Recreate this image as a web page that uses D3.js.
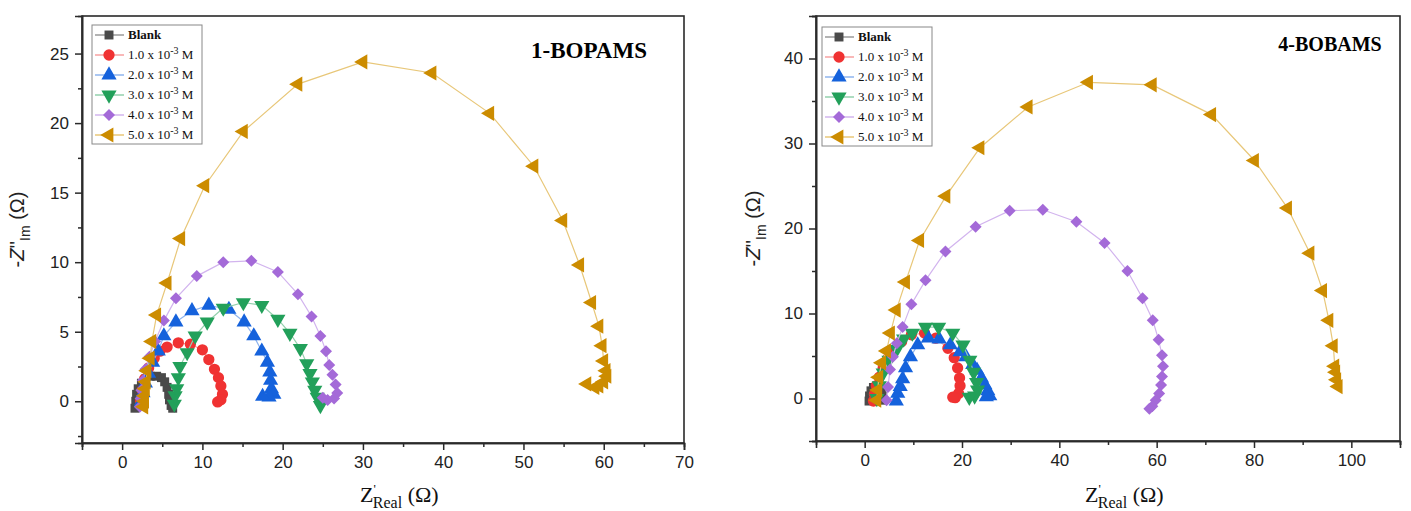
<!DOCTYPE html>
<html lang="en">
<head>
<meta charset="UTF-8">
<title>Nyquist plots</title>
<script src="https://d3js.org/d3.v7.min.js"></script>
<style>
	body { margin: 0; background: #fff; }
	svg { display: block; }
	.tick text { font-family: "Liberation Sans", Arial, sans-serif; font-size: 17px; fill: #222; }
	.legend text { font-family: "Liberation Serif", "Times New Roman", serif; font-size: 13px; fill: #111; }
</style>
</head>
<body>
<svg id="chart" width="1411" height="511"></svg>
<script>
// legend labels, one per concentration
const seriesNames = ["Blank", "1.0", "2.0", "3.0", "4.0", "5.0"]
const colors = ["#4a4a4a", "#f03232", "#1562dc", "#22a05a", "#a46ad8", "#cc8c00"]
const lineColors = ["#9a9a9a", "#f7a0a0", "#8fb4ee", "#93d0ad", "#d2b4ee", "#e8c779"]

// 1-BOPAMS  [Z'real, -Z''im]
const bopamsBlank = [[1.6,-0.5],[1.7,0.0],[1.8,0.5],[2.0,0.9],[2.4,1.3],[2.9,1.6],[3.5,1.8],[4.3,1.8],[4.9,1.7],[5.3,1.4],[5.6,1.0],[5.8,0.5],[5.9,0.1],[6.1,-0.3],[6.3,-0.5]]
const bopams1 = [[2.3,0.0],[2.5,0.8],[2.8,1.6],[3.3,2.4],[4.0,3.1],[4.7,3.6],[5.6,3.9],[7.0,4.2],[8.5,4.1],[10.0,3.7],[10.8,3.0],[11.5,2.3],[12.0,1.7],[12.3,1.1],[12.5,0.5],[12.3,0.1],[11.9,-0.05]]
const bopams2 = [[2.4,0.0],[2.6,0.6],[2.9,1.3],[3.3,2.0],[3.8,2.8],[4.5,3.6],[5.2,4.7],[6.7,5.7],[8.7,6.5],[10.8,6.9],[13.3,6.6],[15.2,5.7],[16.4,4.7],[17.4,3.6],[18.1,2.8],[18.4,2.1],[18.5,1.5],[18.6,0.9],[18.9,0.5],[18.3,0.3],[17.5,0.35]]
const bopams3 = [[6.5,-0.2],[6.6,0.4],[6.8,0.9],[7.0,1.7],[7.2,2.5],[8.1,3.5],[9.1,4.7],[10.6,5.7],[12.6,6.7],[15.1,7.1],[17.4,6.9],[19.4,5.9],[20.9,4.9],[22.2,3.8],[23.0,2.7],[23.4,2.0],[23.7,1.4],[24.0,0.8],[24.3,0.3],[24.7,-0.3]]
const bopams4 = [[2.2,-0.4],[2.3,0.2],[2.4,0.8],[2.6,1.5],[2.9,2.3],[3.4,3.2],[4.1,4.3],[5.2,5.8],[6.7,7.4],[9.3,9.0],[12.6,10.0],[16.1,10.1],[19.4,9.3],[21.9,7.7],[23.6,6.1],[24.7,4.7],[25.4,3.6],[25.8,2.6],[26.2,1.9],[26.6,1.2],[26.8,0.6],[26.4,0.2],[25.6,0.1],[25.0,0.25]]
const bopams5 = [[2.7,-0.4],[2.8,0.0],[2.8,0.4],[2.9,0.9],[3.0,1.4],[3.1,2.2],[3.5,3.1],[3.7,4.3],[4.3,6.2],[5.6,8.5],[7.3,11.7],[10.3,15.5],[15.1,19.4],[21.9,22.8],[30.0,24.4],[38.6,23.6],[45.8,20.7],[51.3,16.9],[54.9,13.0],[57.0,9.8],[58.5,7.1],[59.4,5.4],[59.8,4.0],[60.0,2.9],[60.3,2.2],[60.4,1.8],[60.0,1.4],[59.4,1.1],[58.9,1.0],[57.9,1.25]]

// 4-BOBAMS  [Z'real, -Z''im]
const bobamsBlank = [[0.9,-0.3],[1.0,0.3],[1.3,0.9],[1.8,1.3],[2.4,1.4],[3.0,1.2],[3.4,0.8],[3.6,0.3],[3.7,-0.2]]
const bobams1 = [[1.8,-0.3],[2.0,0.5],[2.4,1.5],[3.0,2.5],[3.8,3.6],[4.8,4.7],[6.0,5.7],[7.6,6.7],[9.6,7.5],[12.3,7.7],[14.6,7.1],[17.1,5.9],[18.4,4.8],[19.1,3.6],[19.5,2.4],[19.6,1.5],[19.3,0.6],[18.6,0.1],[18.1,0.15]]
const bobams2 = [[6.5,-0.3],[6.8,0.6],[7.3,1.4],[7.8,2.3],[8.4,3.6],[9.4,4.9],[10.9,6.3],[13.1,7.1],[15.3,7.0],[17.6,6.3],[19.6,5.5],[20.8,4.9],[22.2,4.0],[23.1,3.3],[24.0,2.4],[24.7,1.6],[25.3,0.9],[25.7,0.3],[25.0,0.2]]
const bobams3 = [[2.5,0.0],[3.0,1.5],[3.8,3.0],[5.0,4.5],[6.6,5.8],[8.0,7.0],[9.8,7.7],[12.5,8.4],[15.2,8.4],[18.1,7.7],[20.2,6.3],[21.6,4.5],[22.4,3.1],[23.0,1.9],[23.2,1.0],[22.6,0.3],[21.5,0.15]]
const bobams4 = [[4.5,-0.2],[4.8,1.35],[5.2,3.4],[5.8,4.9],[6.6,6.5],[7.8,8.4],[9.6,11.1],[12.5,13.9],[16.6,17.3],[22.8,20.2],[29.8,22.1],[36.6,22.2],[43.5,20.8],[49.3,18.3],[54.0,15.0],[57.1,11.8],[59.2,9.2],[60.4,6.9],[61.1,5.1],[61.3,3.8],[61.1,2.6],[60.9,1.6],[60.5,0.6],[59.8,-0.2],[59.1,-0.9],[58.5,-1.2]]
const bobams5 = [[2.5,-0.2],[2.7,1.0],[2.9,2.5],[3.5,4.2],[4.5,5.6],[5.3,7.7],[6.5,10.4],[8.4,13.7],[11.3,18.6],[16.7,23.8],[23.7,29.5],[33.6,34.3],[46.0,37.2],[59.1,36.9],[71.3,33.4],[80.1,28.0],[86.9,22.4],[91.5,17.1],[94.1,12.7],[95.4,9.2],[96.3,6.2],[96.6,3.8],[96.8,3.1],[97.0,2.2],[97.3,1.4]]

const panels = [
	{ title: "1-BOPAMS", titleSize: 23, series: [bopamsBlank, bopams1, bopams2, bopams3, bopams4, bopams5],
	  xDomain: [-5, 70], yDomain: [-3, 27.7], xTicks: d3.range(0, 71, 10), xMinor: d3.range(-5, 70, 10),
	  yTicks: d3.range(0, 26, 5), yMinor: d3.range(-2.5, 27, 5),
	  left: 82, right: 684, top: 16, bottom: 443, titleX: 589, titleY: 58, legend: [92, 25], yTitleX: 24, xTitleX: 360 },
	{ title: "4-BOBAMS", titleSize: 20, series: [bobamsBlank, bobams1, bobams2, bobams3, bobams4, bobams5],
	  xDomain: [-10, 110], yDomain: [-5, 45], xTicks: d3.range(0, 101, 20), xMinor: d3.range(10, 111, 20),
	  yTicks: d3.range(0, 41, 10), yMinor: d3.range(-5, 46, 10),
	  left: 816, right: 1400, top: 16, bottom: 441, titleX: 1330, titleY: 51, legend: [822, 27], yTitleX: 760, xTitleX: 1085 }
]

const symbols = [
	{ type: d3.symbolSquare, size: 80, rot: 0 },
	{ type: d3.symbolCircle, size: 100, rot: 0 },
	{ type: d3.symbolTriangle, size: 100, rot: 0 },
	{ type: d3.symbolTriangle, size: 100, rot: 180 },
	{ type: d3.symbolSquare, size: 72, rot: 45 },
	{ type: d3.symbolTriangle, size: 100, rot: -90 }
]

const svg = d3.select("#chart")

function drawPanel(p) {
	const x = d3.scaleLinear().domain(p.xDomain).range([p.left, p.right])
	const y = d3.scaleLinear().domain(p.yDomain).range([p.bottom, p.top])
	const g = svg.append("g")

	// frame
	g.append("rect")
		.attr("x", p.left).attr("y", p.top)
		.attr("width", p.right - p.left).attr("height", p.bottom - p.top)
		.attr("fill", "none").attr("stroke", "#2a2a2a").attr("stroke-width", 1.6)

	const xAxis = g.append("g").attr("transform", `translate(0,${p.bottom})`)
		.call(d3.axisBottom(x).tickValues(p.xTicks).tickSize(7).tickPadding(6))
	const xMin = g.append("g").attr("transform", `translate(0,${p.bottom})`)
		.call(d3.axisBottom(x).tickValues(p.xMinor).tickSize(4).tickFormat(""))
	const yAxis = g.append("g").attr("transform", `translate(${p.left},0)`)
		.call(d3.axisLeft(y).tickValues(p.yTicks).tickSize(7).tickPadding(6))
	const yMin = g.append("g").attr("transform", `translate(${p.left},0)`)
		.call(d3.axisLeft(y).tickValues(p.yMinor).tickSize(4).tickFormat(""))
	;[xAxis, xMin, yAxis, yMin].forEach(a => {
		a.select(".domain").attr("stroke", "#2a2a2a").attr("stroke-width", 1.6)
		a.selectAll(".tick line").attr("stroke", "#2a2a2a").attr("stroke-width", 1.5)
	})

	const line = d3.line().x(d => x(d[0])).y(d => y(d[1]))
	p.series.forEach((data, i) => {
		g.append("path").datum(data)
			.attr("d", line)
			.attr("fill", "none")
			.attr("stroke", lineColors[i])
			.attr("stroke-width", 1.2)
		const sym = symbols[i]
		g.append("g").selectAll("path")
			.data(data)
			.join("path")
			.attr("d", d3.symbol(sym.type, sym.size))
			.attr("transform", d => `translate(${x(d[0])},${y(d[1])}) rotate(${sym.rot})`)
			.attr("fill", colors[i])
	})

	// panel title
	g.append("text")
		.attr("x", p.titleX).attr("y", p.titleY)
		.attr("text-anchor", "middle")
		.attr("font-family", "Liberation Serif, serif")
		.attr("font-weight", "bold").attr("font-size", p.titleSize)
		.text(p.title)

	// x title
	const xt = g.append("text")
		.attr("x", p.xTitleX).attr("y", 502)
		.attr("font-family", "Liberation Serif, serif").attr("font-size", 22).attr("fill", "#111")
	xt.append("tspan").text("Z")
	xt.append("tspan").attr("dy", -9).attr("font-size", 13).text("'")
	xt.append("tspan").attr("dx", -3).attr("dy", 15).attr("font-size", 16).text("Real")
	xt.append("tspan").attr("dy", -6).text(" (Ω)")

	// y title
	const yt = g.append("text")
		.attr("transform", `translate(${p.yTitleX},${(p.top + p.bottom) / 2}) rotate(-90)`)
		.attr("text-anchor", "middle")
		.attr("font-family", "Liberation Sans, Arial, sans-serif").attr("font-size", 20).attr("fill", "#222")
	yt.append("tspan").text("-")
	yt.append("tspan").attr("font-style", "italic").text("Z")
	yt.append("tspan").text("''")
	yt.append("tspan").attr("dy", 6).attr("font-size", 14).text("Im")
	yt.append("tspan").attr("dy", -6).text(" (Ω)")

	// legend
	const [lx, ly] = p.legend
	const lg = g.append("g").attr("class", "legend")
	lg.append("rect")
		.attr("x", lx).attr("y", ly).attr("width", 110).attr("height", 119)
		.attr("fill", "#fff").attr("stroke", "#888").attr("stroke-width", 1)
	seriesNames.forEach((name, i) => {
		const cy = ly + 10 + i * 20
		lg.append("line")
			.attr("x1", lx + 3).attr("x2", lx + 32).attr("y1", cy).attr("y2", cy)
			.attr("stroke", lineColors[i]).attr("stroke-width", 1.5)
		const sym = symbols[i]
		lg.append("path")
			.attr("d", d3.symbol(sym.type, sym.size))
			.attr("transform", `translate(${lx + 17},${cy}) rotate(${sym.rot})`)
			.attr("fill", colors[i])
		const t = lg.append("text").attr("x", lx + 36).attr("y", cy + 4)
		if (i === 0) {
			t.attr("font-weight", "bold").text(name)
		} else {
			t.append("tspan").text(name + " x 10")
			t.append("tspan").attr("dy", -5).attr("font-size", 10).text("-3")
			t.append("tspan").attr("dy", 5).text(" M")
		}
	})
}

panels.forEach(drawPanel)
</script>
</body>
</html>
